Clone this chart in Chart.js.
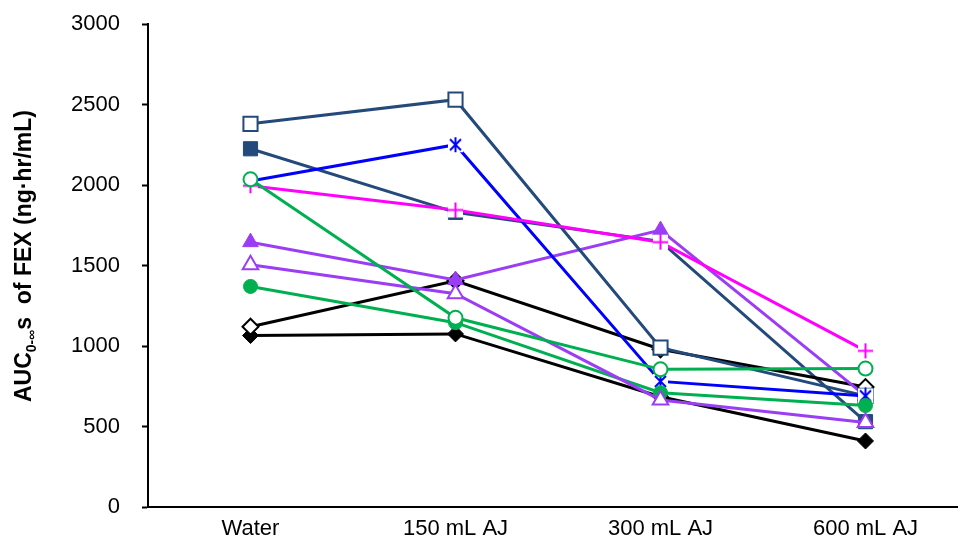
<!DOCTYPE html>
<html>
<head>
<meta charset="utf-8">
<script src="https://cdn.jsdelivr.net/npm/chart.js@4.4.0/dist/chart.umd.min.js"></script>
<style>
  html, body { margin: 0; padding: 0; background: #fff; overflow: hidden; }
  #wrap { width: 980px; height: 545px; position: relative; }
</style>
</head>
<body>
<div id="wrap"><canvas id="chart"></canvas></div>
<script>
const categories = ['Water', '150 mL AJ', '300 mL AJ', '600 mL AJ'];
const yTicks = [0, 500, 1000, 1500, 2000, 2500, 3000];

const openSquare   = [2380, 2530, 990, 690];
const filledSquare = [2225, 1830, 1650, 530];
const blueStar     = [2025, 2250, 780, 690];
const magentaPlus  = [1995, 1845, 1645, 970];
const greenOpen    = [2035, 1175, 855, 860];
const purpleFilled = [1645, 1410, 1720, 690];
const purpleOpen   = [1505, 1325, 665, 525];
const greenFilled  = [1370, 1145, 710, 630];
const blackOpen    = [1120, 1405, 980, 745];
const blackFilled  = [1065, 1075, 685, 410];

const navy = '#24497B';
const green = '#00B050';
const purple = '#9B3DF5';
const font = '"Liberation Sans", Arial, sans-serif';

// Excel-like star / plus markers: strokes over a white box
function boxMarker(kind, color) {
    const c = document.createElement('canvas');
    c.width = 17; c.height = 17;
    const g = c.getContext('2d');
    g.fillStyle = '#fff';
    g.fillRect(1, 1, 15, 15);
    g.strokeStyle = color;
    g.lineWidth = 2;
    g.beginPath();
    if (kind === 'star') {
        g.moveTo(3, 3); g.lineTo(14, 14);
        g.moveTo(14, 3); g.lineTo(3, 14);
        g.moveTo(8.5, 1); g.lineTo(8.5, 16);
    } else {
        g.moveTo(8.5, 1); g.lineTo(8.5, 16);
        g.moveTo(1, 8.5); g.lineTo(16, 8.5);
    }
    g.stroke();
    return c;
}

function series(data, color, style, filled, radius) {
    return {
        data: data,
        borderColor: color,
        borderWidth: 3,
        pointStyle: style,
        pointRadius: radius,
        pointHoverRadius: radius,
        pointBackgroundColor: filled ? color : '#ffffff',
        pointBorderColor: color,
        pointBorderWidth: filled ? 1 : 2,
        fill: false,
        tension: 0
    };
}

// dataset 0 is drawn on top
const datasets = [
    series(greenOpen, green, 'circle', false, 7),
    series(purpleOpen, purple, 'triangle', false, 9),
    series(greenFilled, green, 'circle', true, 7),
    series(magentaPlus, '#FF00FF', boxMarker('plus', '#FF00FF'), false, 8),
    series(blueStar, '#0000FF', boxMarker('star', '#0000FF'), false, 8),
    series(openSquare, navy, 'rect', false, 10),
    series(purpleFilled, purple, 'triangle', true, 9),
    series(blackOpen, '#000000', 'rectRot', false, 8),
    series(filledSquare, navy, 'rect', true, 10),
    series(blackFilled, '#000000', 'rectRot', true, 8)
];

const yTitle = {
    id: 'yTitle',
    afterDraw(chart) {
        const ctx = chart.ctx;
        const big = 'bold 23px ' + font;
        const small = 'bold 14px ' + font;
        const p1 = 'AUC', p2 = '0-\u221E', p3 = 's  of FEX (ng\u00B7hr/mL)';
        ctx.save();
        ctx.font = big;
        const w1 = ctx.measureText(p1).width;
        const w3 = ctx.measureText(p3).width;
        ctx.font = small;
        const w2 = ctx.measureText(p2).width;
        const total = w1 + w2 + w3;
        ctx.translate(25, 256);
        ctx.rotate(-Math.PI / 2);
        ctx.fillStyle = '#000';
        ctx.textBaseline = 'middle';
        ctx.textAlign = 'left';
        let x = -total / 2;
        ctx.font = big;
        ctx.fillText(p1, x, 0);
        x += w1;
        ctx.font = small;
        ctx.fillText(p2, x, 7);
        x += w2;
        ctx.font = big;
        ctx.fillText(p3, x, 0);
        ctx.restore();
    }
};

new Chart(document.getElementById('chart'), {
    type: 'line',
    data: { labels: categories, datasets: datasets },
    options: {
        responsive: true,
        maintainAspectRatio: false,
        animation: false,
        events: [],
        layout: { padding: { top: 24, right: 0, left: 0, bottom: 0 } },
        plugins: { legend: { display: false }, tooltip: { enabled: false } },
        scales: {
            x: {
                offset: true,
                grid: { display: false },
                border: { display: true, color: '#000', width: 2 },
                ticks: { color: '#000', padding: 1, font: { family: font, size: 22 } },
                afterFit(scale) {
                    scale.height = 38;
                    scale.paddingLeft = 0; scale.paddingRight = 0;
                    scale.paddingTop = 0; scale.paddingBottom = 0;
                }
            },
            y: {
                min: 0,
                max: 3000,
                afterBuildTicks(scale) { scale.ticks = yTicks.map(v => ({ value: v })); },
                grid: { display: true, drawOnChartArea: false, tickLength: 6, color: '#000', tickWidth: 2 },
                border: { display: true, color: '#000', width: 2 },
                ticks: {
                    color: '#000',
                    padding: 22,
                    font: { family: font, size: 22 },
                    callback: v => String(v)
                },
                afterFit(scale) {
                    scale.width = 148;
                    scale.paddingTop = 0; scale.paddingBottom = 0;
                    scale.paddingLeft = 0; scale.paddingRight = 0;
                }
            }
        }
    },
    plugins: [yTitle]
});
</script>
</body>
</html>
